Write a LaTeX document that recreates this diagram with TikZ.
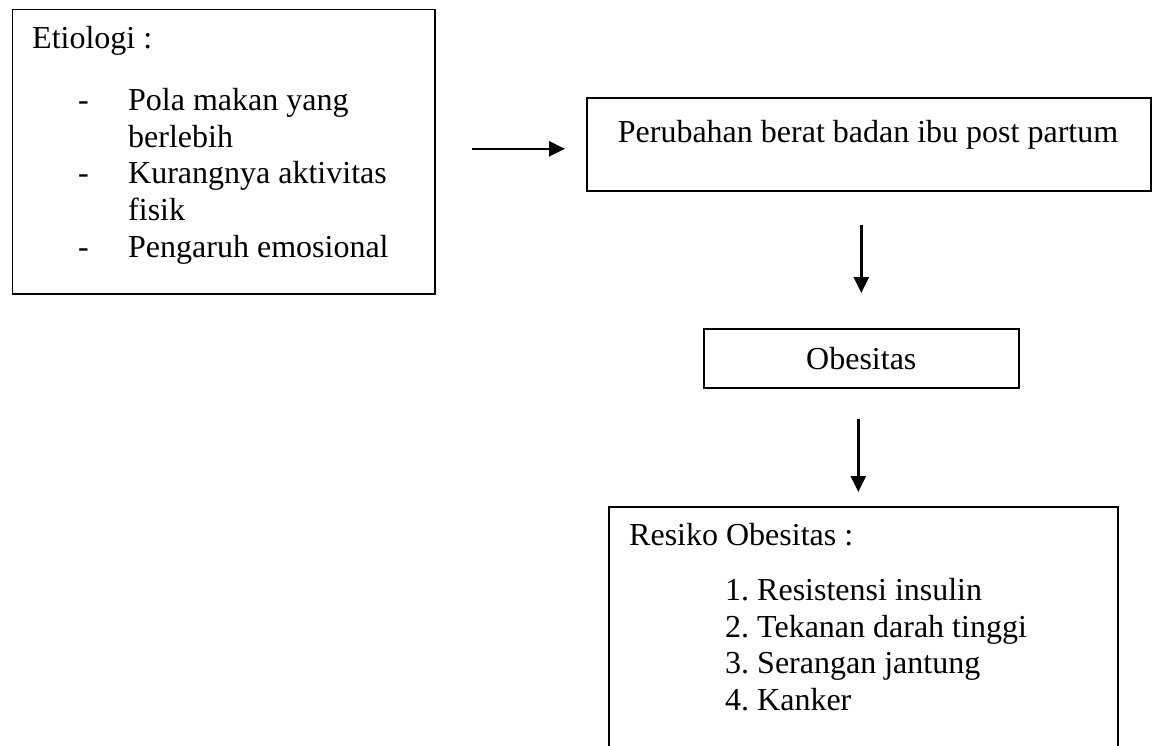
\documentclass[tikz,border=0pt]{standalone}
\usepackage{fontspec}
\setmainfont{Liberation Serif}
\usepackage{tikz}
\usetikzlibrary{arrows.meta}

\begin{document}
\begin{tikzpicture}[x=1pt, y=-1pt,
    box/.style = {draw, line width=1.6pt, anchor=north west, inner sep=0pt},
    txt/.style = {anchor=base west, inner sep=0pt},
    arr/.style = {line width=2.5pt, -{Triangle[length=16pt, width=15pt]}}]
      \fontsize{32}{36.7}\selectfont
      \useasboundingbox (0,0) rectangle (1155,745);
      \clip (0,0) rectangle (1155,745);

      % boxes
      \node[box, minimum width=422.5pt, minimum height=284.5pt] (etio) at (11.5,8.5) {};
      \node[box, minimum width=564pt, minimum height=93pt] (ubah) at (586,97) {};
      \node[box, minimum width=315pt, minimum height=59pt] (obes) at (703,328) {Obesitas};
      \node[box, minimum width=509pt, minimum height=270pt] (resiko) at (608,506) {};

      % text of the boxes
      \node[txt] (etiohead) at (32,48) {Etiologi :};
      \node[txt] (d1) at (78,110) {-};
      \node[txt] (e1) at (128,110) {Pola makan yang};
      \node[txt] (e1b) at (128,147) {berlebih};
      \node[txt] (d2) at (78,183) {-};
      \node[txt] (e2) at (128,183) {Kurangnya aktivitas};
      \node[txt] (e2b) at (128,220) {fisik};
      \node[txt] (d3) at (78,257) {-};
      \node[txt] (e3) at (128,257) {Pengaruh emosional};

      \node[anchor=base, inner sep=0pt] (ubahtxt) at (868,142) {Perubahan berat badan ibu post partum};

      \node[txt] (resikohead) at (629,545) {Resiko Obesitas :};
      \node[txt] (n1) at (725,600) {1.};
      \node[txt] (r1) at (757,600) {Resistensi insulin};
      \node[txt] (n2) at (725,637) {2.};
      \node[txt] (r2) at (757,637) {Tekanan darah tinggi};
      \node[txt] (n3) at (725,673) {3.};
      \node[txt] (r3) at (757,673) {Serangan jantung};
      \node[txt] (n4) at (725,710) {4.};
      \node[txt] (r4) at (757,710) {Kanker};

      % arrows
      \draw[arr, shorten <=36pt, shorten >=21pt] ([yshift=2.75pt]etio.east) -- ([yshift=2.75pt]etio.east -| ubah.west);
      \draw[arr, shorten <=33pt, shorten >=35pt] (obes.north |- ubah.south) -- (obes.north);
      \draw[arr, shorten <=30pt, shorten >=14pt] ([xshift=-3pt]obes.south) -- ([xshift=-3pt]obes.south |- resiko.north);
    \end{tikzpicture}
\end{document}
